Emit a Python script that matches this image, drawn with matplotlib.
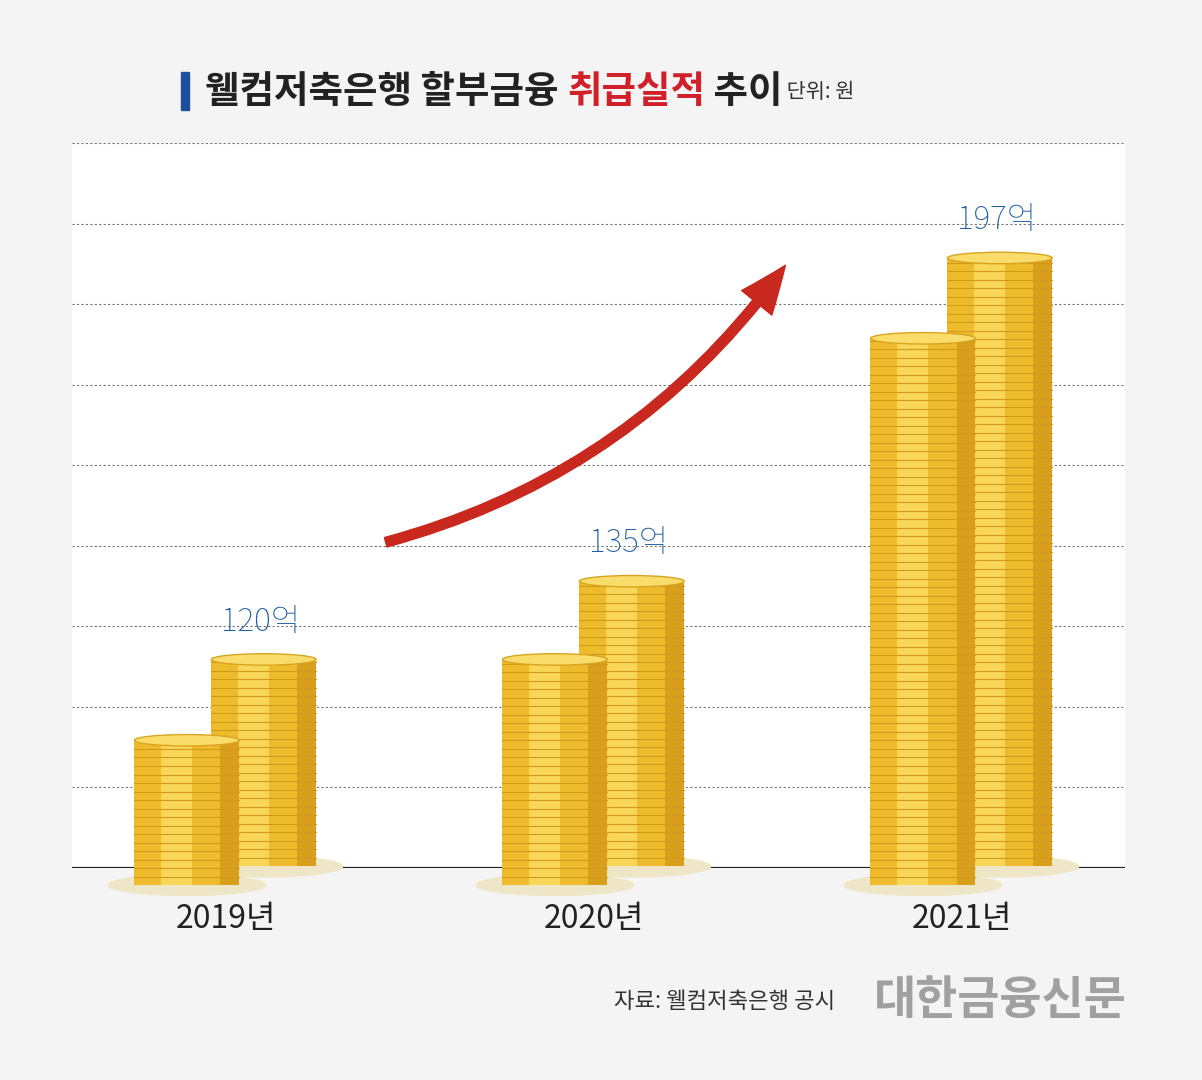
import matplotlib
matplotlib.use("Agg")
import matplotlib.pyplot as plt
import numpy as np
from matplotlib.patches import Ellipse, Rectangle, FancyArrowPatch

years = ["2019년", "2020년", "2021년"]
values = [120, 135, 197]
value_labels = ["120억", "135억", "197억"]
front_stack = [104.5, 120, 181.6]

plt.rcParams["font.family"] = ["Noto Sans CJK KR", "Noto Sans CJK JP", "Noto Sans CJK SC", "DejaVu Sans"]

fig = plt.figure(figsize=(12.02, 10.8), dpi=100, facecolor="#f4f4f4")
W, H = 1202, 1080
ax = fig.add_axes([72 / W, 1 - 868 / H, 1053 / W, 725 / H])
ax.set_facecolor("white")
ymin, ymax = 80, 80 + 725 / (610 / 117)
ax.set_ylim(ymin, ymax)
ax.set_xlim(-0.418, 2.443)
for s in ax.spines.values():
    s.set_visible(False)
ax.set_xticks([]); ax.set_yticks([])
for i in range(9):
    ax.axhline(ymin + (ymax - ymin) * (1 - i * 80.5 / 725), color="#777", ls=(0, (2, 2)), lw=0.8)
ax.axhline(ymin, color="#222", lw=1.6, zorder=1)

bw = 0.285
ppu = 610 / 117
coin = 8.5 / ppu

def stack(xc, top, bottom, z):
    ax.add_patch(Ellipse((xc, bottom), bw * 1.5, 4, color="#efe6c8", zorder=z, clip_on=False))
    ax.add_patch(Rectangle((xc - bw / 2, bottom), bw, top - bottom, color="#eebb2c", zorder=z + 1, clip_on=False, lw=0))
    ax.add_patch(Rectangle((xc - bw * 0.25, bottom), bw * 0.3, top - bottom, color="#f8d658", zorder=z + 1, clip_on=False, lw=0))
    ax.add_patch(Rectangle((xc + bw * 0.32, bottom), bw * 0.18, top - bottom, color="#d99e1c", zorder=z + 1, clip_on=False, lw=0))
    for y in np.arange(bottom + coin, top, coin):
        ax.plot([xc - bw / 2, xc + bw / 2], [y, y], color="#d39a1c", lw=0.8, zorder=z + 2, clip_on=False)
    ax.add_patch(Ellipse((xc, top), bw, 2.2, facecolor="#f9dc6a", edgecolor="#d9a520", zorder=z + 3, clip_on=False))

for i, (v, f) in enumerate(zip(values, front_stack)):
    stack(i + 0.103, v, ymin + 0.3, 2)
    stack(i - 0.106, f, ymin - 17 / ppu, 10)
    ax.text(i + 0.095, v + 4, value_labels[i], ha="center", va="bottom", fontsize=23,
            color="#1f5fa8", fontweight="light")
    ax.text(i, ymin - 35 / ppu, years[i], ha="center", va="top", fontsize=23, color="#222")

arrow = FancyArrowPatch((383 / W, 1 - 543 / H), (787 / W, 1 - 263 / H), transform=fig.transFigure,
                        connectionstyle="arc3,rad=0.18", arrowstyle="simple,head_width=28,head_length=34,tail_width=7",
                        color="#c8281e", zorder=20)
fig.patches.append(arrow)

fig.patches.append(Rectangle((181 / W, 1 - 110 / H), 8 / W, 38 / H, transform=fig.transFigure, color="#1f4f9a"))
r = fig.canvas.get_renderer()
x = 205
for txt, col, fs, fw in [("웰컴저축은행 할부금융 ", "#222", 27, "bold"), ("취급실적", "#d0202a", 27, "bold"),
                         (" 추이", "#222", 27, "bold"), (" 단위: 원", "#333", 15, "normal")]:
    t = fig.text(x / W, 1 - 92 / H, txt, color=col, fontsize=fs, fontweight=fw, va="center", ha="left")
    x += t.get_window_extent(r).width

fig.text(835 / W, 1 - 1001 / H, "자료: 웰컴저축은행 공시", ha="right", va="center", fontsize=16, color="#333")
fig.text(1127 / W, 1 - 1001 / H, "대한금융신문", ha="right", va="center", fontsize=33, color="#a0a0a0", fontweight="bold")

fig.savefig("out.png", dpi=100, facecolor=fig.get_facecolor())
